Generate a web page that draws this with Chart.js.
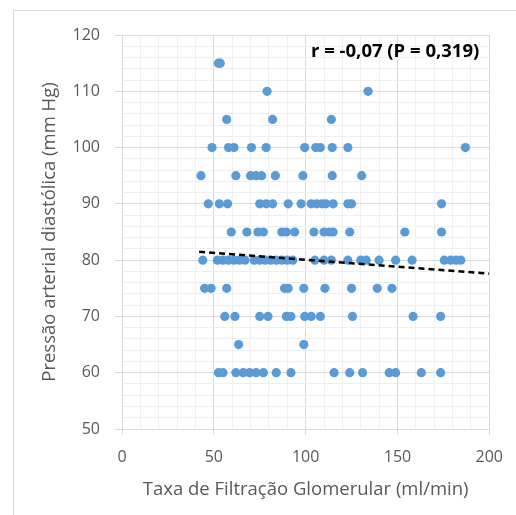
<!DOCTYPE html>
<html>
<head>
<meta charset="utf-8">
<script src="https://cdn.jsdelivr.net/npm/chart.js@4.4.1/dist/chart.umd.min.js"></script>
<style>
  html, body { margin: 0; padding: 0; background: #ffffff; }
  #wrap { width: 516px; height: 515px; }
</style>
</head>
<body>
<div id="wrap"><canvas id="tfgChart" width="516" height="515"></canvas></div>
<script>
// ---------------------------------------
// data
// ---------------------------------------

// Taxa de filtração glomerular (ml/min), grouped by pressure value
const gfr115 = [52.5, 53.5];
const gfr110 = [79, 134];
const gfr105 = [57, 82, 114];
const gfr100 = [49, 58, 61, 70.5, 78.5, 99.5, 105.5, 108, 114.5, 123, 187];
const gfr95  = [43, 62, 70, 73, 76, 83.5, 98.5, 114.5, 130.5];
const gfr90  = [47, 53, 57.5, 75, 78.5, 82, 90.5, 97.5, 103, 106, 109, 111, 115, 123, 125, 174];
const gfr85  = [59.5, 68, 74, 77, 87, 89.5, 94, 104.5, 110, 113, 115, 124, 154, 174];
const gfr80  = [44, 52, 55, 58, 61, 64, 67, 72, 75, 78, 81, 84, 87, 90, 93, 105, 110, 114,
                123, 130, 133, 140, 149, 158, 175.5, 179, 182, 184.5];
const gfr75  = [45, 48.5, 57, 88.5, 90.5, 99, 110.5, 125, 139, 147];
const gfr70  = [56, 61.5, 75, 79.5, 89.5, 92, 99.5, 103, 108, 125.5, 158.5, 173.5];
const gfr65  = [63.5, 99];
const gfr60  = [52.5, 55, 62, 66, 69.5, 73, 77, 84, 92, 115.5, 124, 131, 145.5, 149, 163, 173.5];

// diastolic pressure (mm Hg) for each group above
const padLevels = [115, 110, 105, 100, 95, 90, 85, 80, 75, 70, 65, 60];
const gfrGroups = [gfr115, gfr110, gfr105, gfr100, gfr95, gfr90, gfr85, gfr80, gfr75, gfr70, gfr65, gfr60];

// linear trend line ends
const trendX = [42, 200];
const trendY = [81.5, 77.6];

const xTicks = [0, 50, 100, 150, 200];
const yTicks = [50, 60, 70, 80, 90, 100, 110, 120];

const statText = "r = -0,07 (P = 0,319)";

// ---------------------------------------

const points = [];
gfrGroups.forEach((grp, i) => {
    grp.forEach(x => points.push({ x: x, y: padLevels[i] }));
});

const trend = trendX.map((x, i) => ({ x: x, y: trendY[i] }));

const font = "'Open Sans', 'Liberation Sans', sans-serif";
const grey = "#595959";

// white page + faint frame + r/P label
const framePlugin = {
    id: "frame",
    beforeDraw(chart) {
        const ctx = chart.ctx;
        ctx.save();
        ctx.fillStyle = "#ffffff";
        ctx.fillRect(0, 0, chart.width, chart.height);
        ctx.strokeStyle = "#d9d9d9";
        ctx.lineWidth = 1;
        ctx.strokeRect(13.5, 10.5, 600, 600);
        ctx.restore();
    },
    afterDraw(chart) {
        const ctx = chart.ctx;
        const a = chart.chartArea;
        ctx.save();
        ctx.font = "bold 18.5px " + font;
        ctx.fillStyle = "#000000";
        ctx.textAlign = "right";
        ctx.textBaseline = "middle";
        ctx.fillText(statText, a.right - 10, a.top + 17);
        ctx.restore();
    }
};

new Chart(document.getElementById("tfgChart"), {
    type: "scatter",
    data: {
        datasets: [
            {
                label: "PAD",
                data: points,
                backgroundColor: "#5b9bd5",
                borderColor: "#5b9bd5",
                pointRadius: 4.6,
                pointBorderWidth: 0,
                order: 2
            },
            {
                type: "line",
                label: "tendência",
                data: trend,
                borderColor: "#000000",
                borderWidth: 2.5,
                borderDash: [6, 4],
                pointRadius: 0,
                fill: false,
                order: 1
            }
        ]
    },
    options: {
        responsive: false,
        animation: false,
        layout: {
            padding: { top: 35, right: 26, bottom: 14, left: 39 }
        },
        plugins: {
            legend: { display: false },
            tooltip: { enabled: false }
        },
        scales: {
            x: {
                type: "linear",
                min: xTicks[0],
                max: xTicks[xTicks.length - 1],
                ticks: {
                    stepSize: 10,
                    autoSkip: false,
                    maxRotation: 0,
                    padding: 13,
                    color: grey,
                    font: { family: font, size: 16 },
                    callback: v => xTicks.includes(v) ? v : ""
                },
                grid: {
                    color: c => xTicks.includes(c.tick.value) ? "#d9d9d9" : "#efefef",
                    tickColor: c => xTicks.includes(c.tick.value) ? "#d9d9d9" : "rgba(0,0,0,0)",
                    tickLength: 6
                },
                border: { color: "#d9d9d9" },
                title: {
                    display: true,
                    text: "Taxa de Filtração Glomerular (ml/min)",
                    color: grey,
                    font: { family: font, size: 18.5 },
                    padding: 0
                },
                afterFit: s => { s.height = 72; }
            },
            y: {
                min: yTicks[0],
                max: yTicks[yTicks.length - 1],
                ticks: {
                    stepSize: 2,
                    autoSkip: false,
                    padding: 15,
                    color: grey,
                    font: { family: font, size: 16 },
                    callback: v => yTicks.includes(v) ? v : ""
                },
                grid: {
                    color: c => yTicks.includes(c.tick.value) ? "#d9d9d9" : "#efefef",
                    tickColor: c => yTicks.includes(c.tick.value) ? "#d9d9d9" : "rgba(0,0,0,0)",
                    tickLength: 7
                },
                border: { color: "#d9d9d9" },
                title: {
                    display: true,
                    text: "Pressão arterial diastólica (mm Hg)",
                    color: grey,
                    font: { family: font, size: 18.5 },
                    padding: 0
                },
                afterFit: s => { s.width = 83; }
            }
        }
    },
    plugins: [framePlugin]
});
</script>
</body>
</html>
